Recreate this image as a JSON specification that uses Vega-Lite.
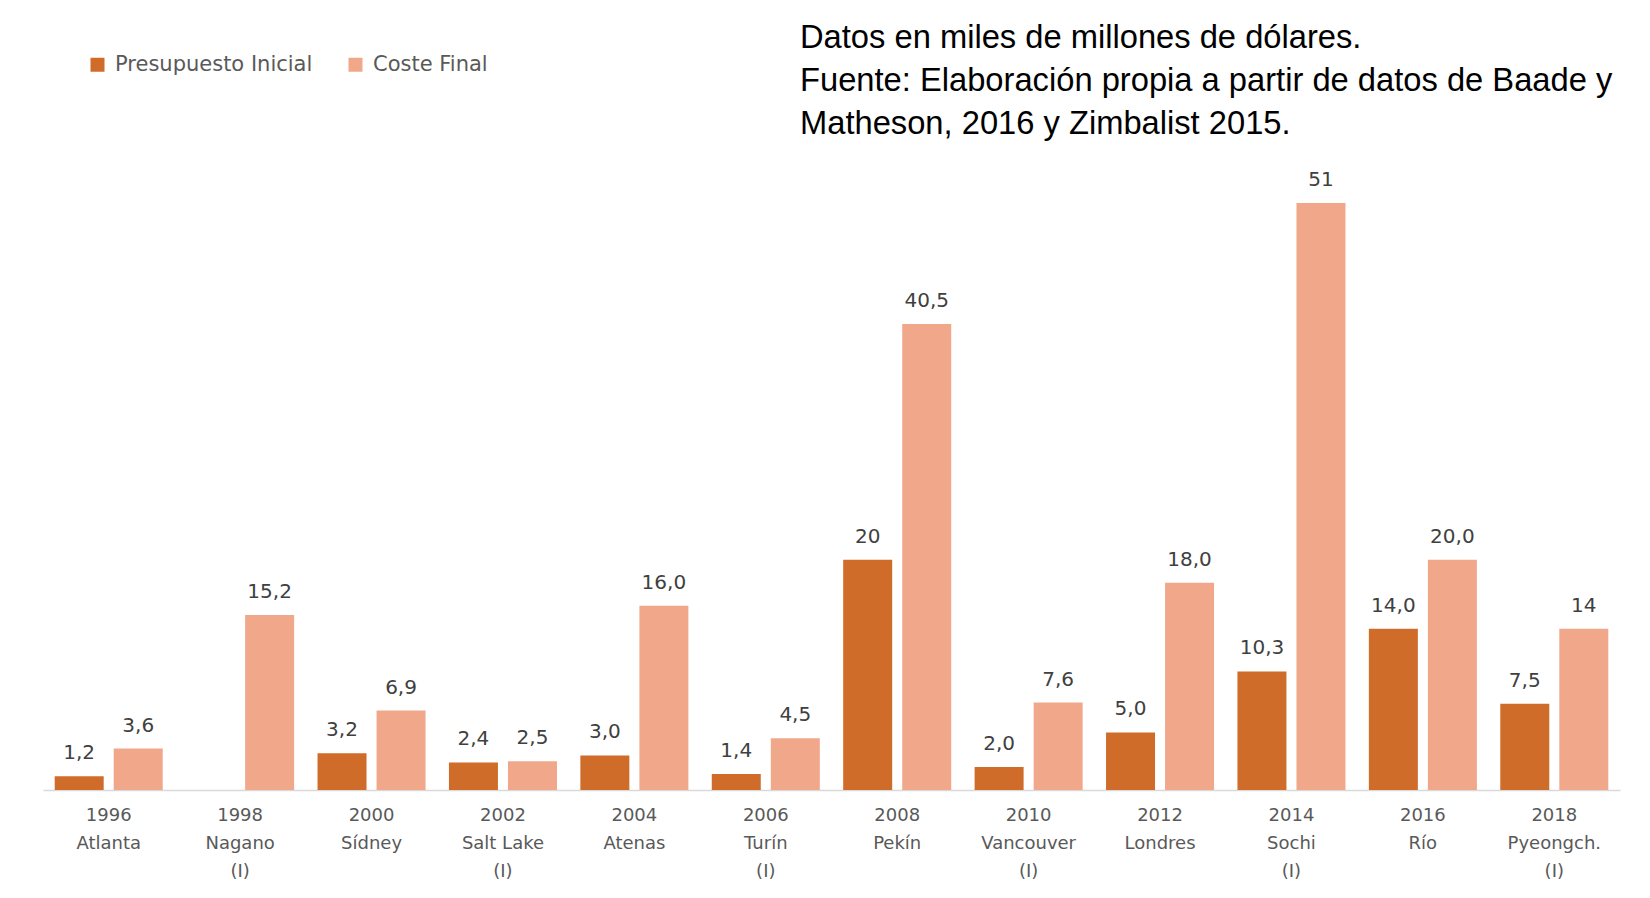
{
  "$schema": "https://vega.github.io/schema/vega-lite/v6.json",
  "width": 1577,
  "height": 633,
  "autosize": {"type": "none"},
  "padding": {"left": 43, "top": 157, "right": 30, "bottom": 108},
  "background": "white",
  "title": {
    "text": ["Datos en miles de millones de dólares.", "Fuente: Elaboración propia a partir de datos de Baade y", "Matheson, 2016 y Zimbalist 2015."],
    "anchor": "start",
    "frame": "group",
    "dx": 757,
    "dy": 97,
    "font": "Liberation Sans",
    "fontSize": 32.7,
    "fontWeight": "normal",
    "color": "#000000",
    "lineHeight": 43,
    "offset": 10
  },
  "data": {
    "values": [
      {"juego": "1996|Atlanta", "serie": "Presupuesto Inicial", "valor": 1.2, "etiqueta": "1,2"},
      {"juego": "1996|Atlanta", "serie": "Coste Final", "valor": 3.6, "etiqueta": "3,6"},
      {"juego": "1998|Nagano|(I)", "serie": "Coste Final", "valor": 15.2, "etiqueta": "15,2"},
      {"juego": "2000|Sídney", "serie": "Presupuesto Inicial", "valor": 3.2, "etiqueta": "3,2"},
      {"juego": "2000|Sídney", "serie": "Coste Final", "valor": 6.9, "etiqueta": "6,9"},
      {"juego": "2002|Salt Lake|(I)", "serie": "Presupuesto Inicial", "valor": 2.4, "etiqueta": "2,4"},
      {"juego": "2002|Salt Lake|(I)", "serie": "Coste Final", "valor": 2.5, "etiqueta": "2,5"},
      {"juego": "2004|Atenas", "serie": "Presupuesto Inicial", "valor": 3.0, "etiqueta": "3,0"},
      {"juego": "2004|Atenas", "serie": "Coste Final", "valor": 16.0, "etiqueta": "16,0"},
      {"juego": "2006|Turín|(I)", "serie": "Presupuesto Inicial", "valor": 1.4, "etiqueta": "1,4"},
      {"juego": "2006|Turín|(I)", "serie": "Coste Final", "valor": 4.5, "etiqueta": "4,5"},
      {"juego": "2008|Pekín", "serie": "Presupuesto Inicial", "valor": 20, "etiqueta": "20"},
      {"juego": "2008|Pekín", "serie": "Coste Final", "valor": 40.5, "etiqueta": "40,5"},
      {"juego": "2010|Vancouver|(I)", "serie": "Presupuesto Inicial", "valor": 2.0, "etiqueta": "2,0"},
      {"juego": "2010|Vancouver|(I)", "serie": "Coste Final", "valor": 7.6, "etiqueta": "7,6"},
      {"juego": "2012|Londres", "serie": "Presupuesto Inicial", "valor": 5.0, "etiqueta": "5,0"},
      {"juego": "2012|Londres", "serie": "Coste Final", "valor": 18.0, "etiqueta": "18,0"},
      {"juego": "2014|Sochi|(I)", "serie": "Presupuesto Inicial", "valor": 10.3, "etiqueta": "10,3"},
      {"juego": "2014|Sochi|(I)", "serie": "Coste Final", "valor": 51, "etiqueta": "51"},
      {"juego": "2016|Río", "serie": "Presupuesto Inicial", "valor": 14.0, "etiqueta": "14,0"},
      {"juego": "2016|Río", "serie": "Coste Final", "valor": 20.0, "etiqueta": "20,0"},
      {"juego": "2018|Pyeongch.|(I)", "serie": "Presupuesto Inicial", "valor": 7.5, "etiqueta": "7,5"},
      {"juego": "2018|Pyeongch.|(I)", "serie": "Coste Final", "valor": 14, "etiqueta": "14"}
    ]
  },
  "encoding": {
    "x": {
      "field": "juego",
      "type": "nominal",
      "sort": null,
      "scale": {"paddingInner": 0.178, "paddingOuter": 0.089},
      "axis": {
        "title": null,
        "labelAngle": 0,
        "ticks": false,
        "domainColor": "#d9d9d9",
        "domainWidth": 1.5,
        "labelFont": "DejaVu Sans",
        "labelFontSize": 18,
        "labelColor": "#595959",
        "labelPadding": 16,
        "labelLineHeight": 28,
        "labelBaseline": "top",
        "labelExpr": "split(datum.label, '|')"
      }
    },
    "xOffset": {
      "field": "serie",
      "type": "nominal",
      "scale": {"domain": ["Presupuesto Inicial", "Coste Final"], "paddingInner": 0.17}
    },
    "y": {
      "field": "valor",
      "type": "quantitative",
      "scale": {"domain": [0, 55], "nice": false},
      "axis": null
    }
  },
  "layer": [
    {
      "mark": {"type": "bar"},
      "encoding": {
        "color": {
          "field": "serie",
          "type": "nominal",
          "scale": {"domain": ["Presupuesto Inicial", "Coste Final"], "range": ["#D06C2A", "#F0A78A"]},
          "legend": {
            "orient": "none",
            "legendX": 44,
            "legendY": -103,
            "direction": "horizontal",
            "title": null,
            "symbolType": "square",
            "symbolSize": 196,
            "symbolStrokeWidth": 0,
            "labelFont": "DejaVu Sans",
            "labelFontSize": 21,
            "labelColor": "#595959",
            "labelOffset": 7,
            "labelLimit": 0,
            "columnPadding": 32
          }
        }
      }
    },
    {
      "mark": {"type": "text", "baseline": "alphabetic", "dy": -17, "font": "DejaVu Sans", "fontSize": 20, "color": "#404040"},
      "encoding": {"text": {"field": "etiqueta"}}
    }
  ],
  "config": {"view": {"stroke": null}}
}
